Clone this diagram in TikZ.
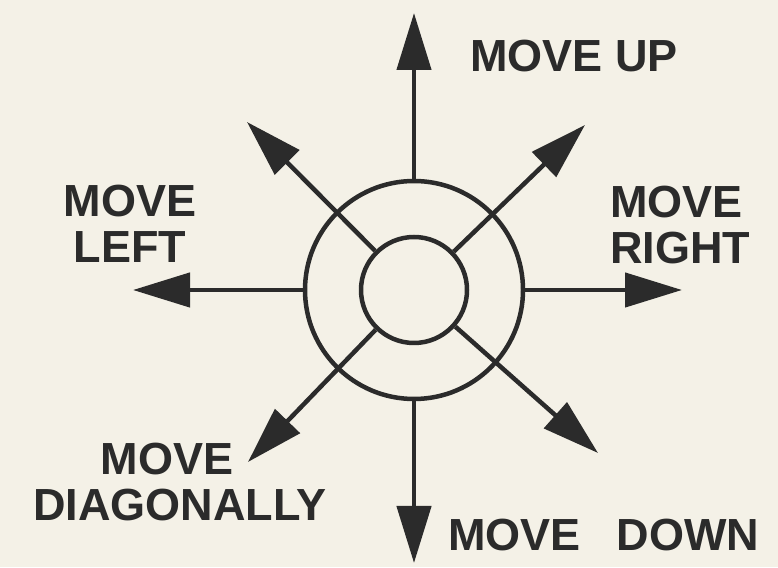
\documentclass[tikz,border=0pt]{standalone}
\usepackage{fontspec}
\setmainfont{Liberation Sans}
\usetikzlibrary{arrows.meta,calc}
\definecolor{ink}{HTML}{2B2B2B}
\definecolor{paper}{HTML}{F4F1E7}

\begin{document}
\begin{tikzpicture}[
    x=1pt,y=1pt,
    >={Triangle[length=57pt,width=34pt]},
    ring/.style={circle,draw=ink,line width=4.5pt,inner sep=0pt},
    mv/.style={->,line width=4.5pt,draw=ink},
    lbl/.style={font=\bfseries\fontsize{45}{46}\selectfont,text=ink,inner sep=0pt},
]

% paper, also fixes the page size
\fill[paper] (0,0) rectangle (778,567);
\useasboundingbox (0,0) rectangle (778,567);

\node[ring,minimum size=218pt] (outer) at (414,277) {};
\node[ring,minimum size=106pt] (inner) at (414,277) {};

% arrow tips
\coordinate (up) at (414,554);
\coordinate (down) at (414,4);
\coordinate (left) at (133,277);
\coordinate (right) at (682,277);
\coordinate (ul) at (247,445);
\coordinate (ur) at (585,442);
\coordinate (ll) at (248,105);
\coordinate (lr) at (598,114);

\draw[mv] (outer) -- (up);
\draw[mv] (outer) -- (down);
\draw[mv] (outer) -- (left);
\draw[mv] (outer) -- (right);
\draw[mv] (inner) -- (ul);
\draw[mv] (inner) -- (ur);
\draw[mv] (inner) -- (ll);
\draw[mv] (inner) -- (lr);

% labels
\node[lbl,anchor=base west] (tup) at (470,495) {MOVE UP};
\node[lbl,anchor=base west] (tdown) at (448,17) {MOVE\hspace{36pt}DOWN};
\node[lbl,align=center] (tleft) at (130,343) {MOVE\\LEFT};
\node[lbl,align=left,anchor=west] (tright) at (610,342) {MOVE\\RIGHT};
\node[lbl,align=center] (tdiag) at (180,84.5) {MOVE\kern26pt\\DIAGONALLY};

\end{tikzpicture}
\end{document}
